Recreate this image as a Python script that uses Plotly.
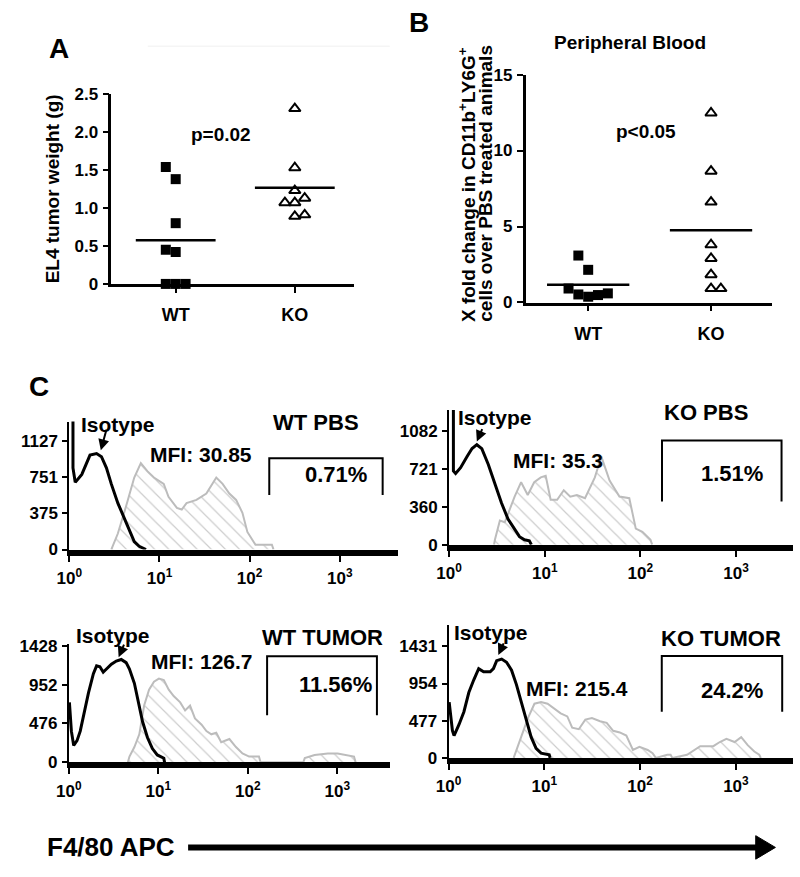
import plotly.graph_objects as go
import numpy as np

W, H = 800, 877
def px(x): return x / W
def py(y): return 1 - y / H

FONT = "Liberation Sans, Arial, sans-serif"

# ---------------- Panel A: EL4 tumor weight ----------------
A_categories = ["WT", "KO"]
A_wt_weight = [1.54, 1.38, 0.80, 0.45, 0.42, 0.0, 0.0, 0.0]
A_wt_jitter = [-0.083, 0, 0, -0.083, 0, -0.083, 0, 0.083]
A_ko_weight = [2.31, 1.53, 1.23, 1.07, 1.07, 1.13, 0.89, 0.91]
A_ko_jitter = [0, 0, 0, -0.083, 0, 0.083, 0, 0.083]
A_yticks = [0, 0.5, 1.0, 1.5, 2.0, 2.5]
A_yticklabels = ["0", "0.5", "1.0", "1.5", "2.0", "2.5"]

# ---------------- Panel B: Peripheral blood fold change ----------------
B_categories = ["WT", "KO"]
B_wt_fold = [3.09, 2.15, 0.92, 0.53, 0.38, 0.49, 0.60]
B_wt_jitter = [-0.08, 0, -0.16, -0.08, 0, 0.08, 0.16]
B_ko_fold = [12.47, 8.64, 6.61, 3.80, 2.90, 1.83, 0.92, 0.92]
B_ko_jitter = [0, 0, 0, 0, 0, 0, 0, 0.08]
B_yticks = [0, 5, 10, 15]

# ---------------- Panel C: F4/80 flow histograms (x = log10 intensity) ----------------
C_xticks = [0, 1, 2, 3]
C_xticklabels = ["10<sup>0</sup>", "10<sup>1</sup>", "10<sup>2</sup>", "10<sup>3</sup>"]

C1_iso_log = [0.04, 0.04, 0.065, 0.138, 0.229, 0.302, 0.356, 0.411, 0.465, 0.538, 0.629, 0.72, 0.775, 0.83, 0.85]
C1_iso_cnt = [1400, 846, 696, 779, 978, 995, 962, 846, 680, 481, 282, 83, 33, 10, 0]
C1_f480_log = [0.465, 0.538, 0.629, 0.72, 0.793, 0.865, 0.938, 1.047, 1.10, 1.193, 1.247, 1.30, 1.41, 1.52, 1.63, 1.70, 1.775, 1.85, 1.92, 1.975, 2.065, 2.247, 2.265]
C1_f480_cnt = [0, 166, 448, 746, 895, 812, 746, 680, 547, 431, 415, 481, 514, 580, 746, 680, 580, 514, 381, 182, 50, 50, 0]
C1_yticks = [0, 375, 751, 1127]
C1_gate = [2.218, 3.476, 564, 945]

C2_iso_log = [0.045, 0.045, 0.068, 0.12, 0.188, 0.24, 0.29, 0.342, 0.41, 0.479, 0.548, 0.616, 0.685, 0.736, 0.788, 0.839, 0.86]
C2_iso_cnt = [1400, 701, 677, 732, 838, 914, 951, 914, 762, 579, 396, 244, 152, 76, 46, 37, 0]
C2_f480_log = [0.47, 0.479, 0.531, 0.582, 0.634, 0.685, 0.753, 0.822, 0.89, 0.959, 1.01, 1.062, 1.13, 1.199, 1.267, 1.336, 1.421, 1.524, 1.592, 1.678, 1.781, 1.884, 1.952, 2.021, 2.106, 2.123]
C2_f480_cnt = [0, 46, 229, 213, 335, 457, 594, 472, 594, 640, 655, 427, 427, 518, 457, 472, 442, 640, 838, 610, 457, 442, 152, 122, 46, 0]
C2_yticks = [0, 360, 721, 1082]
C2_gate = [2.226, 3.476, 411, 991]

C3_iso_log = [0.007, 0.029, 0.055, 0.092, 0.128, 0.165, 0.22, 0.275, 0.311, 0.348, 0.385, 0.421, 0.476, 0.531, 0.586, 0.641, 0.678, 0.733, 0.769, 0.824, 0.879, 0.934, 0.989, 1.062, 1.07]
C3_iso_cnt = [734, 382, 207, 265, 382, 577, 851, 1085, 1182, 1171, 1104, 1143, 1202, 1241, 1260, 1221, 1143, 968, 773, 500, 304, 168, 90, 51, 0]
C3_f480_log = [0.66, 0.678, 0.733, 0.788, 0.842, 0.897, 0.952, 1.007, 1.062, 1.117, 1.172, 1.245, 1.3, 1.355, 1.41, 1.484, 1.538, 1.593, 1.648, 1.703, 1.795, 1.868, 1.941, 2.015, 2.125, 2.143, 2.62, 2.637, 2.747, 2.894, 3.004, 3.114, 3.187, 3.205]
C3_f480_cnt = [0, 70, 187, 343, 695, 890, 987, 1026, 1007, 890, 812, 734, 636, 695, 538, 460, 382, 343, 363, 246, 285, 187, 109, 70, 70, 0, 0, 51, 90, 109, 109, 90, 70, 0]
C3_yticks = [0, 476, 952, 1428]
C3_gate = [2.216, 3.443, 577, 1299]

C4_iso_log = [0.007, 0.041, 0.058, 0.11, 0.161, 0.212, 0.264, 0.315, 0.366, 0.435, 0.469, 0.503, 0.555, 0.606, 0.658, 0.709, 0.76, 0.812, 0.863, 0.914, 0.966, 1.051, 1.06]
C4_iso_cnt = [716, 348, 286, 429, 593, 838, 1002, 1145, 1104, 1104, 1145, 1247, 1268, 1227, 1125, 940, 716, 470, 266, 123, 61, 41, 0]
C4_f480_log = [0.68, 0.692, 0.76, 0.829, 0.897, 0.966, 1.034, 1.103, 1.171, 1.24, 1.291, 1.36, 1.428, 1.497, 1.582, 1.651, 1.719, 1.788, 1.856, 1.925, 1.993, 2.079, 2.13, 2.164, 2.284, 2.318, 2.336, 2.49, 2.541, 2.627, 2.764, 2.832, 2.901, 2.986, 3.055, 3.123, 3.192, 3.243, 3.26]
C4_f480_cnt = [0, 41, 266, 511, 695, 716, 695, 634, 572, 532, 388, 368, 491, 511, 470, 450, 348, 327, 286, 102, 143, 102, 61, 0, 41, 41, 0, 41, 82, 151, 151, 204, 245, 204, 266, 164, 82, 41, 0]
C4_yticks = [0, 477, 954, 1431]
C4_gate = [2.226, 3.483, 593, 1308]

C_titles = ["WT PBS", "KO PBS", "WT TUMOR", "KO TUMOR"]
C_mfi = ["MFI: 30.85", "MFI: 35.3", "MFI: 126.7", "MFI: 215.4"]
C_pct = ["0.71%", "1.51%", "11.56%", "24.2%"]

fig = go.Figure()

# ---------- scatter panels ----------
def dot_panel(xa, ya, wt, wtj, ko, koj):
    fig.add_trace(go.Scatter(x=[0 + j for j in wtj], y=wt, mode="markers", xaxis=xa, yaxis=ya,
                             marker=dict(symbol="square", size=10, color="black"), cliponaxis=False,
                             showlegend=False))
    fig.add_trace(go.Scatter(x=[1 + j for j in koj], y=ko, mode="markers", xaxis=xa, yaxis=ya,
                             marker=dict(symbol="triangle-up-open", size=10, color="black",
                                         line=dict(width=2, color="black")), cliponaxis=False,
                             showlegend=False))
    for c, vals in [(0, wt), (1, ko)]:
        m = float(np.mean(vals))
        fig.add_trace(go.Scatter(x=[c - 0.335, c + 0.335], y=[m, m], mode="lines", xaxis=xa, yaxis=ya,
                                 line=dict(color="black", width=2.5), showlegend=False, cliponaxis=False))

dot_panel("x", "y", A_wt_weight, A_wt_jitter, A_ko_weight, A_ko_jitter)
dot_panel("x2", "y2", B_wt_fold, B_wt_jitter, B_ko_fold, B_ko_jitter)

# ---------- flow panels ----------
flow = [
    (C1_iso_log, C1_iso_cnt, C1_f480_log, C1_f480_cnt, C1_gate),
    (C2_iso_log, C2_iso_cnt, C2_f480_log, C2_f480_cnt, C2_gate),
    (C3_iso_log, C3_iso_cnt, C3_f480_log, C3_f480_cnt, C3_gate),
    (C4_iso_log, C4_iso_cnt, C4_f480_log, C4_f480_cnt, C4_gate),
]
for i, (il, ic, fl, fc, gate) in enumerate(flow):
    xa, ya = f"x{i+3}", f"y{i+3}"
    fig.add_trace(go.Scatter(x=fl, y=fc, mode="lines", xaxis=xa, yaxis=ya, fill="tozeroy",
                             fillcolor="rgba(255,255,255,0)",
                             fillpattern=dict(shape="\\", fgcolor="#9a9a9a", size=10, solidity=0.12),
                             line=dict(color="#bcbcbc", width=2), showlegend=False))
    fig.add_trace(go.Scatter(x=il, y=ic, mode="lines", xaxis=xa, yaxis=ya,
                             line=dict(color="black", width=3), showlegend=False))
    g0, g1, gb, gt = gate
    fig.add_trace(go.Scatter(x=[g0, g0, g1, g1], y=[gb, gt, gt, gb], mode="lines", xaxis=xa, yaxis=ya,
                             line=dict(color="black", width=2), showlegend=False, cliponaxis=False))

# ---------- axes ----------
def tf(size): return dict(family=FONT, size=size, color="black", weight="bold")
def dom_x(a, b): return [px(a), px(b)]
def dom_y(top, bottom): return [py(bottom), py(top)]

layout_axes = {}
layout_axes["xaxis"] = dict(domain=dom_x(100, 347), range=[-0.54, 1.5], tickvals=[0, 1], ticktext=A_categories,
                            anchor="y", tickfont=tf(18), ticklabelstandoff=7)
layout_axes["yaxis"] = dict(domain=dom_y(87, 281), range=[0, 2.5], tickvals=A_yticks, ticktext=A_yticklabels,
                            anchor="x", tickfont=tf(17), ticklabelstandoff=1)
layout_axes["xaxis2"] = dict(domain=dom_x(521, 772), range=[-0.51, 1.5], tickvals=[0, 1], ticktext=B_categories,
                             anchor="y2", tickfont=tf(18), ticklabelstandoff=7)
layout_axes["yaxis2"] = dict(domain=dom_y(67, 300), range=[0, 15], tickvals=B_yticks, anchor="x2",
                             tickfont=tf(17), ticklabelstandoff=1)
for k in ["xaxis", "xaxis2", "yaxis", "yaxis2"]:
    layout_axes[k].update(showline=True, linecolor="black", linewidth=2.5, ticks="outside", ticklen=6,
                          tickwidth=2, tickcolor="black", showgrid=False, zeroline=False)

flow_dom = [
    ((57.3, 391.7), (421.7, 552.5), 3.65, 1326, C1_yticks),
    ((443.3, 793.3), (410, 547.5), 3.6, 1280, C2_yticks),
    ((56.7, 383.3), (649, 770), 3.59, 1450, C3_yticks),
    ((442.7, 793.3), (630, 765.5), 3.6, 1700, C4_yticks),
]
for i, ((x0, x1), (y0, y1), xr, yr, yt) in enumerate(flow_dom):
    n = i + 3
    layout_axes[f"xaxis{n}"] = dict(domain=dom_x(x0, x1), range=[0, xr], tickvals=C_xticks, ticktext=C_xticklabels,
                                    anchor=f"y{n}", showline=True, linecolor="black", linewidth=6,
                                    ticks="outside", ticklen=6, tickwidth=2, tickcolor="black",
                                    showgrid=False, zeroline=False, tickfont=tf(17), ticklabelstandoff=2)
    layout_axes[f"yaxis{n}"] = dict(domain=dom_y(y0, y1), range=[0, yr], tickvals=yt,
                                    anchor=f"x{n}", showline=True, linecolor="black", linewidth=2,
                                    ticks="outside", ticklen=5, tickwidth=2, tickcolor="black",
                                    showgrid=False, zeroline=False, tickfont=tf(17), ticklabelstandoff=1)

# ---------- annotations ----------
ann = []
def text(x, y, s, size, **kw):
    d = dict(x=px(x), y=py(y), xref="paper", yref="paper", text=s, showarrow=False,
             font=dict(family=FONT, size=size, color="black", weight="bold"),
             xanchor="center", yanchor="middle")
    d.update(kw)
    ann.append(d)

text(47, 40, "A", 28)
text(413, 14, "B", 28)
text(26, 386, "C", 28)
text(211, 128, "p=0.02", 19)
text(643, 125, "p<0.05", 19)
text(627, 34, "Peripheral Blood", 19)
text(40, 184, "EL4 tumor weight (g)", 19, textangle=-90)
text(461, 322, "X fold change in CD11b<sup>+</sup>LY6G<sup>+</sup>", 19, textangle=-90, yanchor="bottom")
text(480, 322, "cells over PBS treated animals", 19, textangle=-90, yanchor="bottom")

C_text_pos = [
    dict(iso=(107, 425), mfi=(191, 455), title=(308, 423), pct=(328, 476)),
    dict(iso=(490, 418), mfi=(554, 462), title=(704, 412), pct=(731, 475)),
    dict(iso=(102, 640), mfi=(192, 667), title=(315, 642), pct=(328, 690)),
    dict(iso=(486, 637), mfi=(573, 695), title=(720, 643), pct=(731, 697)),
]
for i, p in enumerate(C_text_pos):
    text(*p["iso"], "Isotype", 21)
    text(*p["mfi"], C_mfi[i], 21)
    text(*p["title"], C_titles[i], 22)
    text(*p["pct"], C_pct[i], 22)

iso_arrows = [(0.349, 1028, 6, -22), (0.29, 981, 6, -14), (0.557, 1288, 6, -14), (0.52, 1321, 6, -13)]
for i, (hx, hy, ax, ay) in enumerate(iso_arrows):
    ann.append(dict(x=hx, y=hy, xref=f"x{i+3}", yref=f"y{i+3}", text="", showarrow=True, arrowhead=2,
                    arrowsize=1.1, arrowwidth=2, arrowcolor="black", ax=ax, ay=ay, standoff=0))

text(100, 857, "F4/80 APC", 26)

shapes = [
    dict(type="line", xref="paper", yref="paper", x0=px(178), x1=px(758), y0=py(857), y1=py(857),
         line=dict(color="black", width=6)),
    dict(type="path", xref="paper", yref="paper",
         path=f"M {px(755)},{py(845)} L {px(775)},{py(857)} L {px(755)},{py(869)} Z",
         fillcolor="black", line=dict(color="black", width=1)),
    dict(type="line", xref="paper", yref="paper", x0=px(137), x1=px(383), y0=py(38), y1=py(38),
         line=dict(color="#f0f0f0", width=1)),
]

fig.update_layout(width=W, height=H, margin=dict(l=0, r=0, t=0, b=0), plot_bgcolor="white",
                  paper_bgcolor="white", showlegend=False, annotations=ann, shapes=shapes,
                  font=dict(family=FONT, color="black"), **layout_axes)

fig.write_html("out.html", config={"displayModeBar": False},
               post_script="document.body.style.margin='0';document.body.style.padding='0';"
                           "document.documentElement.style.overflow='hidden';"
                           "document.body.style.overflow='hidden';")
